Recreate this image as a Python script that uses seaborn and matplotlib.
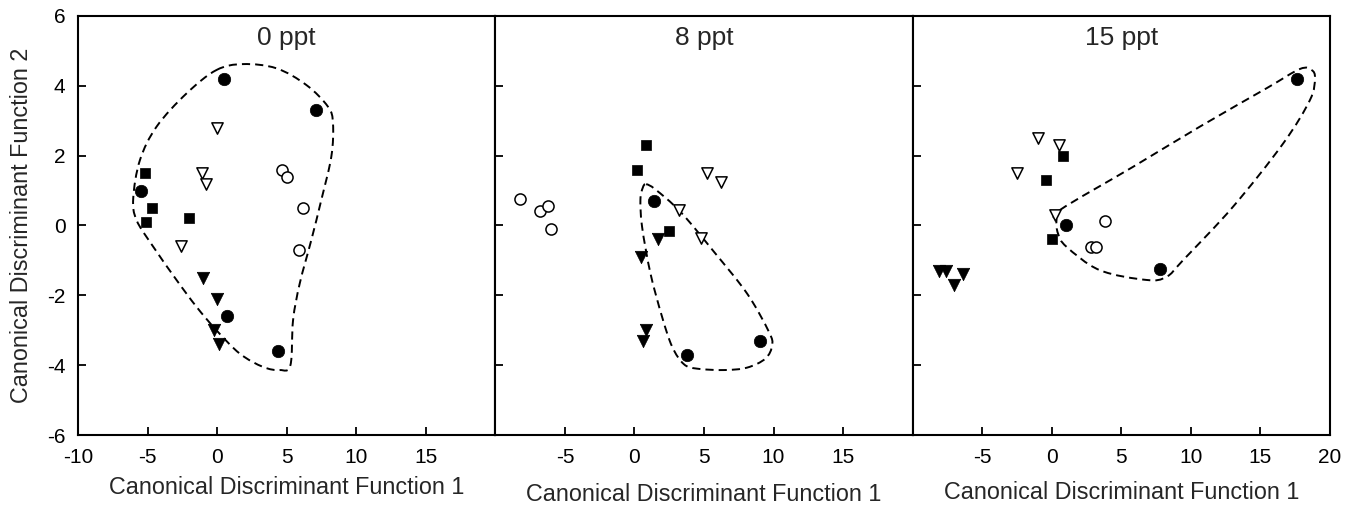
import numpy as np
import pandas as pd
import matplotlib
matplotlib.use("Agg")
import matplotlib.pyplot as plt
from matplotlib.path import Path
from matplotlib.patches import PathPatch
import seaborn as sns

panel_titles = ["0 ppt", "8 ppt", "15 ppt"]

# 0 ppt
x_0 = [0.5, 7.1, -5.5, 0.7, 4.4,
       4.7, 5.0, 6.2, 5.9,
       -5.2, -4.7, -5.1, -2.0,
       0.0, -1.1, -0.8, -2.6,
       -1.0, 0.0, -0.2, 0.1]
y_0 = [4.2, 3.3, 1.0, -2.6, -3.6,
       1.6, 1.4, 0.5, -0.7,
       1.5, 0.5, 0.1, 0.2,
       2.8, 1.5, 1.2, -0.6,
       -1.5, -2.1, -3.0, -3.4]
grp_0 = ["closed circle"] * 5 + ["open circle"] * 4 + ["closed square"] * 4 + \
        ["open triangle"] * 4 + ["closed triangle"] * 4

# 8 ppt
x_8 = [1.4, 3.8, 9.0,
       -8.2, -6.8, -6.2, -6.0,
       0.8, 0.2, 2.5,
       5.2, 6.2, 3.2, 4.8,
       1.7, 0.5, 0.8, 0.6]
y_8 = [0.7, -3.7, -3.3,
       0.75, 0.4, 0.55, -0.1,
       2.3, 1.6, -0.15,
       1.5, 1.25, 0.45, -0.35,
       -0.4, -0.9, -3.0, -3.3]
grp_8 = ["closed circle"] * 3 + ["open circle"] * 4 + ["closed square"] * 3 + \
        ["open triangle"] * 4 + ["closed triangle"] * 4

# 15 ppt
x_15 = [17.6, 1.0, 7.8,
        3.8, 2.8, 3.2,
        0.8, -0.4, 0.0,
        -1.0, 0.5, -2.5, 0.2,
        -8.1, -7.6, -7.0, -6.4]
y_15 = [4.2, 0.0, -1.25,
        0.13, -0.62, -0.62,
        2.0, 1.3, -0.4,
        2.5, 2.3, 1.5, 0.3,
        -1.3, -1.3, -1.7, -1.4]
grp_15 = ["closed circle"] * 3 + ["open circle"] * 3 + ["closed square"] * 3 + \
         ["open triangle"] * 4 + ["closed triangle"] * 4

# dashed envelopes around the closed-circle group
hull_x_0 = [-0.05, 1.87, 4.26, 6.42, 7.97, 8.33, 8.21, 7.49, 6.77, 5.94, 5.46, 5.27,
            4.5, 3.3, 1.63, -0.05, -1.48, -2.92, -4.59, -5.79, -6.03, -5.55, -4.35, -2.2]
hull_y_0 = [4.45, 4.62, 4.5, 4.02, 3.4, 2.92, 1.97, 0.73, -0.42, -1.66, -2.71, -4.0,
            -4.14, -4.05, -3.67, -3.0, -2.33, -1.56, -0.61, 0.15, 0.78, 1.87, 2.83, 3.78]
hull_x_8 = [0.84, 1.51, 3.31, 5.71, 8.1, 9.66, 9.9, 9.42, 8.1, 6.43, 4.51, 3.55,
            2.71, 1.99, 1.15, 0.55, 0.43, 0.6]
hull_y_8 = [1.18, 1.03, 0.39, -0.75, -1.95, -3.04, -3.43, -3.81, -4.07, -4.14, -4.1, -3.97,
            -3.47, -2.62, -1.37, -0.04, 0.73, 1.08]
hull_x_15 = [0.58, 5.85, 10.65, 15.45, 17.84, 18.68, 18.92, 18.56, 16.64, 13.04, 9.45,
             8.25, 6.81, 3.45, 1.06, 0.45, 0.34]
hull_y_15 = [0.44, 1.68, 2.83, 3.93, 4.48, 4.45, 4.21, 3.59, 2.35, 0.54, -0.99,
             -1.47, -1.56, -1.28, -0.61, -0.23, 0.15]

x_ticks = [-10, -5, 0, 5, 10, 15, 20]
xtick_labels_0 = ["-10", "-5", "0", "5", "10", "15", ""]
xtick_labels_8 = ["", "-5", "0", "5", "10", "15", ""]
xtick_labels_15 = ["", "-5", "0", "5", "10", "15", "20"]
y_ticks = [-6, -4, -2, 0, 2, 4, 6]

styles = {
    "closed circle": dict(marker="o", s=80, color="black", edgecolor="black", linewidth=0.5),
    "open circle": dict(marker="o", s=64, color="white", edgecolor="black", linewidth=1.1),
    "closed square": dict(marker="s", s=60, color="black", edgecolor="black", linewidth=0.5),
    "open triangle": dict(marker="v", s=66, color="white", edgecolor="black", linewidth=1.1),
    "closed triangle": dict(marker="v", s=80, color="black", edgecolor="black", linewidth=0.5),
}


def smooth_closed(xs, ys):
    # closed Catmull-Rom curve through the points, as cubic Bezier segments
    p = np.column_stack([xs, ys])
    n = len(p)
    verts = [p[0]]
    codes = [Path.MOVETO]
    for i in range(n):
        p0, p1, p2, p3 = p[i - 1], p[i], p[(i + 1) % n], p[(i + 2) % n]
        verts += [p1 + (p2 - p0) / 6, p2 - (p3 - p1) / 6, p2]
        codes += [Path.CURVE4] * 3
    return Path(verts, codes)


sns.set_style("ticks")
plt.rcParams["font.family"] = ["Liberation Sans", "DejaVu Sans"]
plt.rcParams["axes.unicode_minus"] = False

fig, axes = plt.subplots(1, 3, figsize=(13.52, 5.13), dpi=100, sharey=True)
fig.subplots_adjust(left=0.0577, right=0.9837, bottom=0.152, top=0.969, wspace=0)

panel_data = [(x_0, y_0, grp_0), (x_8, y_8, grp_8), (x_15, y_15, grp_15)]
hulls = [(hull_x_0, hull_y_0), (hull_x_8, hull_y_8), (hull_x_15, hull_y_15)]
xtick_labels = [xtick_labels_0, xtick_labels_8, xtick_labels_15]
xlabel_y = [-0.097, -0.114, -0.11]

for i, ax in enumerate(axes):
    xs, ys, gs = panel_data[i]
    df = pd.DataFrame({"x": xs, "y": ys, "group": gs})
    hx, hy = hulls[i]
    ax.add_patch(PathPatch(smooth_closed(hx, hy), fill=False, edgecolor="black",
                           linewidth=1.4, linestyle=(0, (4.2, 2.6)), zorder=2))
    for g, st in styles.items():
        sub = df[df["group"] == g]
        sns.scatterplot(data=sub, x="x", y="y", ax=ax, zorder=3, legend=False, **st)

    ax.set_xlim(-10, 20)
    ax.set_ylim(-6, 6)
    ax.set_xticks(x_ticks)
    ax.set_xticklabels(xtick_labels[i])
    ax.set_xticks([20], minor=True)
    ax.set_yticks(y_ticks)
    ax.tick_params(direction="in", length=6, width=1.3, labelsize=15, pad=9,
                   colors="black")
    ax.tick_params(axis="x", which="minor", direction="out", length=6, width=1.5)
    for sp in ax.spines.values():
        sp.set_visible(True)
        sp.set_linewidth(1.5)
        sp.set_color("black")
    ax.text(0.5, 0.93, panel_titles[i], transform=ax.transAxes, ha="center",
            va="baseline", fontsize=19)
    ax.set_xlabel("Canonical Discriminant Function 1", fontsize=16.8)
    ax.xaxis.set_label_coords(0.5, xlabel_y[i])
    ax.set_ylabel("")

axes[0].set_ylabel("Canonical Discriminant Function 2", fontsize=16.8)
axes[0].yaxis.set_label_coords(-0.108, 0.5)

fig.savefig("out.png", dpi=100)
